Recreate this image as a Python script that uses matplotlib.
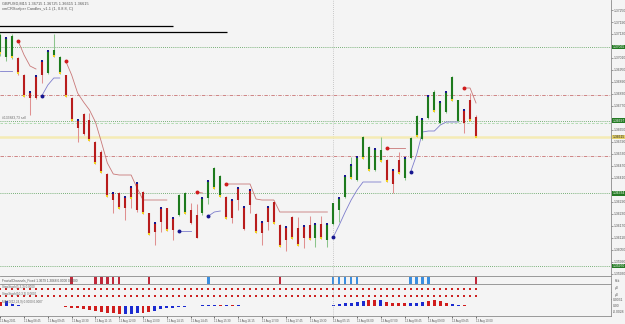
import numpy as np
import matplotlib
matplotlib.use("Agg")
import matplotlib.pyplot as plt
from matplotlib.transforms import blended_transform_factory

# GBPUSD M15, 81 bars (oldest first)
opens = [1.37035, 1.37015, 1.37015, 1.37010, 1.36925, 1.36840, 1.36920, 1.36995, 1.36935, 1.37020,
         1.36935, 1.36925, 1.36810, 1.36700, 1.36730, 1.36700, 1.36590, 1.36540, 1.36430, 1.36335,
         1.36335, 1.36315, 1.36365, 1.36385, 1.36340, 1.36235, 1.36185, 1.36260, 1.36260, 1.36210,
         1.36225, 1.36235, 1.36250, 1.36225, 1.36235, 1.36310, 1.36360, 1.36320, 1.36315, 1.36300,
         1.36360, 1.36265, 1.36350, 1.36230, 1.36190, 1.36265, 1.36290, 1.36175, 1.36165, 1.36215,
         1.36160, 1.36170, 1.36175, 1.36110, 1.36180, 1.36100, 1.36180, 1.36250, 1.36315, 1.36410,
         1.36400, 1.36510, 1.36450, 1.36450, 1.36495, 1.36500, 1.36450, 1.36500, 1.36410, 1.36510,
         1.36620, 1.36605, 1.36710, 1.36745, 1.36685, 1.36740, 1.36800, 1.36695, 1.36750, 1.36800,
         1.36715]
highs = [1.37135, 1.37115, 1.37130, 1.37015, 1.36930, 1.36845, 1.36925, 1.37000, 1.37050, 1.37130,
         1.37020, 1.36925, 1.36815, 1.36700, 1.36735, 1.36735, 1.36595, 1.36550, 1.36435, 1.36335,
         1.36340, 1.36320, 1.36370, 1.36385, 1.36345, 1.36235, 1.36190, 1.36260, 1.36260, 1.36215,
         1.36330, 1.36340, 1.36285, 1.36280, 1.36315, 1.36395, 1.36465, 1.36425, 1.36320, 1.36300,
         1.36360, 1.36270, 1.36350, 1.36235, 1.36195, 1.36270, 1.36295, 1.36180, 1.36170, 1.36220,
         1.36215, 1.36170, 1.36220, 1.36180, 1.36220, 1.36180, 1.36285, 1.36310, 1.36420, 1.36515,
         1.36520, 1.36620, 1.36570, 1.36555, 1.36615, 1.36505, 1.36450, 1.36540, 1.36510, 1.36615,
         1.36725, 1.36710, 1.36825, 1.36850, 1.36795, 1.36840, 1.36920, 1.36800, 1.36750, 1.36835,
         1.36725]
lows = [1.37020, 1.36995, 1.37005, 1.36925, 1.36815, 1.36725, 1.36805, 1.36885, 1.36930, 1.37015,
        1.36930, 1.36815, 1.36695, 1.36590, 1.36625, 1.36595, 1.36480, 1.36435, 1.36315, 1.36235,
        1.36255, 1.36200, 1.36260, 1.36240, 1.36230, 1.36125, 1.36075, 1.36140, 1.36145, 1.36100,
        1.36220, 1.36230, 1.36180, 1.36110, 1.36225, 1.36280, 1.36355, 1.36315, 1.36205, 1.36185,
        1.36250, 1.36150, 1.36235, 1.36135, 1.36075, 1.36150, 1.36180, 1.36065, 1.36045, 1.36105,
        1.36070, 1.36060, 1.36100, 1.36065, 1.36105, 1.36065, 1.36175, 1.36190, 1.36310, 1.36405,
        1.36395, 1.36505, 1.36445, 1.36445, 1.36490, 1.36390, 1.36335, 1.36430, 1.36400, 1.36505,
        1.36615, 1.36600, 1.36705, 1.36740, 1.36680, 1.36735, 1.36795, 1.36690, 1.36635, 1.36695,
        1.36615]
closes = [1.37125, 1.37110, 1.37120, 1.36935, 1.36820, 1.36810, 1.36810, 1.36925, 1.37045, 1.37050,
          1.37015, 1.36820, 1.36700, 1.36660, 1.36630, 1.36600, 1.36485, 1.36440, 1.36320, 1.36300,
          1.36260, 1.36260, 1.36310, 1.36250, 1.36235, 1.36130, 1.36140, 1.36190, 1.36150, 1.36150,
          1.36325, 1.36335, 1.36185, 1.36110, 1.36310, 1.36395, 1.36460, 1.36420, 1.36210, 1.36210,
          1.36300, 1.36155, 1.36275, 1.36140, 1.36135, 1.36190, 1.36185, 1.36070, 1.36100, 1.36110,
          1.36075, 1.36110, 1.36105, 1.36180, 1.36110, 1.36180, 1.36285, 1.36310, 1.36420, 1.36475,
          1.36515, 1.36615, 1.36565, 1.36555, 1.36550, 1.36395, 1.36380, 1.36435, 1.36510, 1.36610,
          1.36720, 1.36705, 1.36820, 1.36840, 1.36790, 1.36840, 1.36915, 1.36800, 1.36685, 1.36700,
          1.36615]

# small signal squares of the scalper candles
blue_top = [1, 5, 6, 7, 8, 13, 19, 21, 22, 23, 26, 27, 29, 34, 35, 39, 40, 41, 42, 44, 45, 48, 51,
            53, 55, 57, 58, 59, 60, 63, 66, 68, 71, 72, 74, 75, 78]
yellow_bot = [0, 2, 3, 4, 9, 10, 11, 12, 15, 16, 17, 18, 20, 22, 24, 25, 28, 31, 36, 37, 38, 43, 46,
              47, 49, 50, 52, 54, 59, 61, 62, 64, 65, 67, 70, 73, 76, 79, 80]

# trailing stop segments (start bar, values)
stop_red = [(3, [1.37095, 1.37025, 1.36970, 1.36955]),
            (11, [1.36995, 1.36925, 1.36835, 1.36790, 1.36750, 1.36690, 1.36590, 1.36485, 1.36430,
                  1.36425, 1.36425, 1.36425, 1.36360, 1.36300, 1.36300, 1.36300, 1.36300, 1.36300]),
            (33, [1.36340, 1.36335]),
            (38, [1.36380, 1.36380, 1.36380, 1.36380, 1.36380, 1.36305, 1.36300, 1.36300, 1.36300,
                  1.36240, 1.36240, 1.36240, 1.36240, 1.36240, 1.36240, 1.36240, 1.36240, 1.36240]),
            (65, [1.36560, 1.36560, 1.36560, 1.36560]),
            (78, [1.36860, 1.36860, 1.36785])]
stop_blue = [(0, [1.36945, 1.36945, 1.36945]),
             (7, [1.36822, 1.36875, 1.36910, 1.36910]),
             (30, [1.36145, 1.36145, 1.36145]),
             (35, [1.36220, 1.36240, 1.36245]),
             (56, [1.36115, 1.36175, 1.36240, 1.36300, 1.36350, 1.36390, 1.36390, 1.36390, 1.36390]),
             (69, [1.36440, 1.36525, 1.36640, 1.36645, 1.36645, 1.36675, 1.36690, 1.36690, 1.36690])]

green_levels = [1.37065, 1.36697, 1.36334, 1.35970]
red_levels = [1.36823, 1.36518]
black_lines = [(1.37172, 29.1), (1.37138, 38.2)]   # price, last bar reached

fractal_red = [12, 16, 17, 18, 19, 20, 25, 47, 80]
fractal_blue = [35, 56, 57, 58, 59, 60, 69, 70, 71, 72]

hist = [0.0020, 0.0025, 0.0010, 0.0005, 0.0003, 0.0002, 0.0002, 0.0002, 0.0002, 0.0002,
        0.0002, -0.0003, -0.0006, -0.0009, -0.0012, -0.0015, -0.0020, -0.0025, -0.0030, -0.0033,
        -0.0034, -0.0035, -0.0034, -0.0032, -0.0030, -0.0028, -0.0020, -0.0014, -0.0009, -0.0006,
        -0.0003, -0.0002, 0.0002, 0.0003, 0.0005, 0.0007, 0.0008, 0.0006, 0.0005, 0.0005,
        0.0005, 0.0004, 0.0004, 0.0003, 0.0003, 0.0003, 0.0002, 0.0003, 0.0002, 0.0002,
        0.0003, 0.0002, 0.0003, 0.0002, 0.0003, 0.0004, 0.0006, 0.0010, 0.0014, 0.0018,
        0.0022, 0.0025, 0.0028, 0.0030, 0.0028, 0.0022, 0.0018, 0.0016, 0.0014, 0.0014,
        0.0018, 0.0022, 0.0026, 0.0028, 0.0024, 0.0018, 0.0012, 0.0008, 0.0006, 0.0004,
        0.0004]
hist_blue = [1, 2, 3, 4, 6, 7, 8, 9, 21, 22, 23, 26, 27, 28, 29, 30, 31, 32, 34, 35, 36, 38, 40,
             43, 47, 49, 50, 52, 54, 55, 56, 57, 58, 59, 60, 61, 64, 69, 70, 71, 76, 77]

time_labels = ["12 Aug 2021", "12 Aug 08:45", "12 Aug 09:45", "12 Aug 10:30", "12 Aug 11:15",
               "12 Aug 12:00", "12 Aug 13:00", "12 Aug 14:15", "12 Aug 14:45", "12 Aug 15:30",
               "12 Aug 16:15", "12 Aug 17:00", "12 Aug 17:45", "12 Aug 19:30", "13 Aug 05:15",
               "13 Aug 06:00", "13 Aug 07:00", "13 Aug 08:45", "13 Aug 09:00", "13 Aug 09:45",
               "13 Aug 10:00"]

plt.rcParams['font.family'] = ['Liberation Sans', 'DejaVu Sans']
W, H = 625, 324
BG = '#f4f4f4'
RED, PINK = '#b81c1c', '#e09090'
GREEN, LGREEN = '#1d7a1d', '#8cc48c'
NAVY, YEL = '#15158f', '#f2d21e'
XMAX = 102.7
FS = 2.4

fig = plt.figure(figsize=(W / 100, H / 100), dpi=100)
fig.patch.set_facecolor(BG)


def panel(y0, y1):
    ax = fig.add_axes([0, 1 - y1 / H, 611 / W, (y1 - y0) / H])
    ax.set_facecolor(BG)
    ax.set_xlim(-0.05, XMAX)
    for s in ['left', 'top']:
        ax.spines[s].set_visible(False)
    for s in ['right', 'bottom']:
        ax.spines[s].set_color('#8a8a8a')
        ax.spines[s].set_linewidth(0.6)
    ax.set_xticks([])
    ax.axvline(56, color='#a0a0a0', lw=0.5, ls=(0, (1, 2)))
    return ax


idx = np.arange(len(opens))
o, h, l, c = map(np.array, (opens, highs, lows, closes))
up = c > o

# ---- main chart
ax = panel(0, 276)
ax.set_ylim(1.373 - 276 * 0.00005, 1.373)
ax.yaxis.tick_right()
ticks = [t for t in np.arange(1.37250, 1.3590, -0.0006)
         if min(abs(t - g) for g in green_levels + [c[-1]]) > 0.0002]
ax.set_yticks(ticks)
ax.set_yticklabels(["%.5f" % t for t in ticks])
ax.tick_params(axis='y', labelsize=FS, length=1.5, width=0.4, pad=0.6, colors='#555555')

for g in green_levels:
    ax.axhline(g, color='#4f9a4f', lw=0.6, ls=(0, (1, 1.5)))
ax.axhline(green_levels[1] - 0.0001, color='#a8d8a8', lw=0.6, ls=(0, (3, 2)))
for r in red_levels:
    ax.axhline(r, color='#c05a5a', lw=0.5, ls=(0, (5, 2, 1, 2)))
ax.axhline(c[-1], color='#f5ebb5', lw=1.8)
for price, xend in black_lines:
    ax.hlines(price, -1, xend, color='black', lw=0.9)

tr = blended_transform_factory(ax.transAxes, ax.transData)
for g in green_levels:
    ax.text(1.0025, g, "%.5f" % g, transform=tr, fontsize=FS, color='white', va='center',
            ha='left', clip_on=False,
            bbox=dict(boxstyle='square,pad=0.12', fc='#237a23', ec='none'))
ax.text(1.0025, c[-1], "%.5f" % c[-1], transform=tr, fontsize=FS, color='#222222', va='center',
        ha='left', clip_on=False, bbox=dict(boxstyle='square,pad=0.12', fc='#e6d36a', ec='none'))
ax.text(0.004, green_levels[1] + 0.00003, "#133883,73 sell", transform=tr, fontsize=2.4,
        color='#6a6a6a', va='bottom')

for seg_list, col, dot in [(stop_red, '#c97878', '#d01c1c'), (stop_blue, '#7d7dcc', NAVY)]:
    for start, vals in seg_list:
        xs = np.arange(start, start + len(vals))
        ax.plot(xs, vals, color=col, lw=0.6)
        if start > 0:
            ax.scatter([start], [vals[0]], s=8, color=dot, zorder=5, lw=0)

ax.vlines(idx, l, h, colors=np.where(up, LGREEN, PINK), lw=0.75)
ax.vlines(idx, np.minimum(o, c), np.maximum(o, c), colors=np.where(up, GREEN, RED), lw=1.5)
ax.scatter(blue_top, np.maximum(o, c)[blue_top], marker='s', s=2.4, color=NAVY, lw=0, zorder=4)
ax.scatter(yellow_bot, np.minimum(o, c)[yellow_bot], marker='s', s=2.4, color=YEL, lw=0, zorder=4)

fig.text(2 / W, 1 - 4 / H, "GBPUSD,M15 %.5f %.5f %.5f %.5f" % (o[-1], h[-1], l[-1], c[-1]),
         fontsize=2.8, color='#555555', va='center')
fig.text(2 / W, 1 - 9 / H, "xmCRScalper Candles_v1.1 (1, 0.8.8, C)", fontsize=2.8,
         color='#555555', va='center')

# ---- fractal channel strip
ax1 = panel(277, 284)
ax1.set_ylim(0, 1)
ax1.set_yticks([])
ax1.bar(fractal_red, 1, width=0.4, color='#c0283a')
ax1.bar(fractal_blue, 1, width=0.4, color='#3a8ee0')
ax1.text(0.004, 0.5, "FractalChannels_Fixed 1.3679 1.3068 0.0000 0.0000", transform=ax1.transAxes,
         fontsize=2.3, color='#555555', va='center')
ax1.text(1.006, 0.5, "fkk", transform=ax1.transAxes, fontsize=FS, color='#555555', va='center')

# ---- two dot rows
for (y0, y1), name in [((285, 291.5), "StepStoch(5,3,3) 0.0000"), ((292, 298.5), "StepStoch(10,3,3) 0.0000")]:
    axd = panel(y0, y1)
    axd.set_ylim(0, 1)
    axd.set_yticks([])
    axd.scatter(idx, np.full(len(idx), 0.45), marker='s', s=4, color='#cc2222', lw=0)
    axd.text(0.004, 0.75, name, transform=axd.transAxes, fontsize=2.2, color='#666666', va='center')
    axd.text(1.006, 0.5, "µ0", transform=axd.transAxes, fontsize=FS, color='#555555', va='center')

# ---- histogram
ax4 = panel(299, 316)
ax4.set_ylim(-0.0045, 0.0035)
ax4.set_yticks([])
hcol = ['#1a2ad0' if i in hist_blue else '#d01c1c' for i in idx]
ax4.bar(idx, hist, width=0.5, color=hcol)
ax4.text(0.004, 0.85, "MACD(12,24,9) 0.0000 0.0007", transform=ax4.transAxes, fontsize=2.2,
         color='#666666', va='center')
for val, lab in [(0.0031, "0.0031"), (0.0, "0.00"), (-0.0028, "-0.0028")]:
    ax4.text(1.003, val, lab, transform=blended_transform_factory(ax4.transAxes, ax4.transData),
             fontsize=FS, color='#555555', va='center', clip_on=False)
ax4.set_xticks(np.arange(0, 81, 4))
ax4.set_xticklabels(time_labels, fontsize=2.0, color='#555555', ha='left')
ax4.tick_params(axis='x', length=1.5, width=0.4, pad=1)

fig.savefig("out.png", dpi=100, facecolor=fig.get_facecolor())
